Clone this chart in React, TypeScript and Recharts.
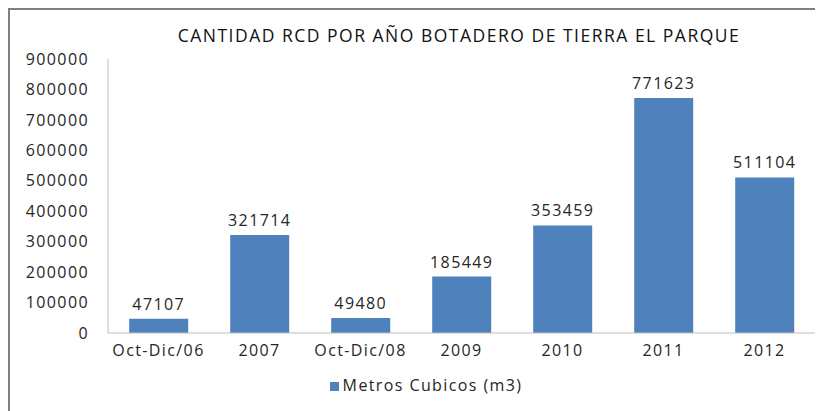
import { BarChart, Bar, XAxis, YAxis, Legend, LabelList } from "recharts";

const categorias = ["Oct-Dic/06", "2007", "Oct-Dic/08", "2009", "2010", "2011", "2012"];
const metrosCubicos = [47107, 321714, 49480, 185449, 353459, 771623, 511104];
const ticksY = [0, 100000, 200000, 300000, 400000, 500000, 600000, 700000, 800000, 900000];

const datos = categorias.map((c, i) => ({ periodo: c, metros: metrosCubicos[i] }));

const fuente = "'Open Sans', 'DejaVu Sans', sans-serif";
const texto = { fontFamily: fuente, fontSize: 16, fill: "#262626", letterSpacing: 1.4 };

export default function App() {
  return (
    <div
      style={{
        position: "relative",
        width: 813,
        height: 401,
        borderTop: "2px solid #808080",
        borderLeft: "2px solid #808080",
        background: "#fff",
      }}
    >
      <div
        style={{
          position: "absolute",
          top: 13,
          left: 0,
          width: 898,
          textAlign: "center",
          fontFamily: fuente,
          fontSize: 17.5,
          letterSpacing: 1.5,
          color: "#111",
        }}
      >
        CANTIDAD RCD POR AÑO BOTADERO DE TIERRA EL PARQUE
      </div>
      <BarChart
        width={813}
        height={401}
        data={datos}
        margin={{ top: 49, right: 8, bottom: 26, left: 0 }}
        barCategoryGap="21%"
      >
        <XAxis
          dataKey="periodo"
          tickLine={false}
          tickSize={0}
          tickMargin={12}
          axisLine={{ stroke: "#bfbfbf" }}
          tick={texto}
          interval={0}
        />
        <YAxis
          width={98}
          domain={[0, 900000]}
          ticks={ticksY}
          tickLine={false}
          tickSize={0}
          tickMargin={19}
          axisLine={{ stroke: "#bfbfbf" }}
          tick={texto}
          interval={0}
        />
        <Legend
          iconType="square"
          iconSize={9}
          wrapperStyle={{ top: 364, left: 26, width: 790, fontFamily: fuente, fontSize: 16, letterSpacing: 1.4 }}
          formatter={(v) => <span style={{ color: "#262626" }}>{v}</span>}
        />
        <Bar dataKey="metros" name="Metros Cubicos (m3)" fill="#4f81bd" isAnimationActive={false}>
          <LabelList dataKey="metros" position="top" offset={9} style={texto} />
        </Bar>
      </BarChart>
    </div>
  );
}
